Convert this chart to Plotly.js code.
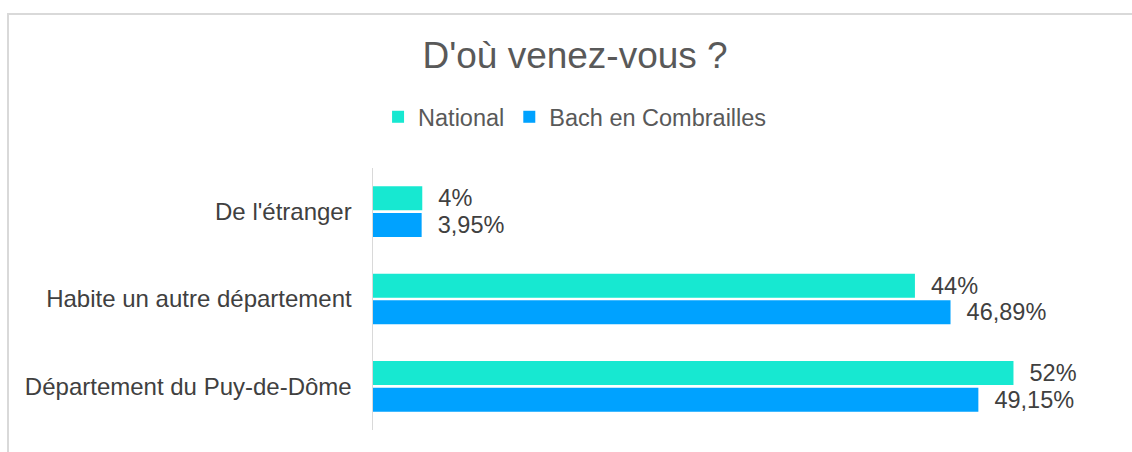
<!DOCTYPE html>
<html>
<head>
<meta charset="utf-8">
<script src="https://cdn.plot.ly/plotly-3.0.1.min.js"></script>
<style>
  html, body { margin: 0; padding: 0; background: #ffffff; }
  #frame { position: absolute; left: 7px; top: 13px; width: 1200px; height: 500px;
           border-top: 2px solid #d9d9d9; border-left: 2px solid #d9d9d9; box-sizing: border-box; }
  #chart { position: absolute; left: 0; top: 0; width: 1132px; height: 452px; }
</style>
</head>
<body>
<div id="frame"></div>
<div id="chart"></div>
<script>
const categories = ["De l'étranger", "Habite un autre département", "Département du Puy-de-Dôme"];
const seriesNames = ["National", "Bach en Combrailles"];
const nationalValues = [4, 44, 52];
const bachValues = [3.95, 46.89, 49.15];
const nationalLabels = ["4%", "44%", "52%"];
const bachLabels = ["3,95%", "46,89%", "49,15%"];
const colors = ["#17E8D1", "#00A2FF"];

const labelFont = { family: "Liberation Sans, Arial, sans-serif", size: 23.5, color: "#404040" };
const catFont = { family: "Liberation Sans, Arial, sans-serif", size: 24, color: "#404040" };

const traces = [
  { name: seriesNames[0], values: nationalValues, labels: nationalLabels, color: colors[0] },
  { name: seriesNames[1], values: bachValues, labels: bachLabels, color: colors[1] }
].map(s => ({
  type: "bar",
  orientation: "h",
  name: s.name,
  y: categories,
  x: s.values,
  text: s.labels.map(t => "\u00a0\u00a0" + t),
  textposition: "outside",
  constraintext: "none",
  textfont: labelFont,
  cliponaxis: false,
  marker: { color: s.color },
  hoverinfo: "skip"
}));

const layout = {
  width: 1132,
  height: 452,
  paper_bgcolor: "rgba(0,0,0,0)",
  plot_bgcolor: "rgba(0,0,0,0)",
  margin: { l: 373, r: 20, t: 168, b: 22, pad: 0 },
  font: { family: "Liberation Sans, Arial, sans-serif", color: "#404040" },
  title: {
    text: "D'où venez-vous ?",
    font: { family: "Liberation Sans, Arial, sans-serif", size: 37, color: "#595959" },
    x: 0.508, xref: "container", xanchor: "center",
    y: 1 - 55 / 452, yref: "container", yanchor: "middle"
  },
  barmode: "group",
  bargap: 0.39,
  bargroupgap: 0.1,
  showlegend: true,
  legend: {
    orientation: "h",
    xref: "container", yref: "container",
    x: 0.508, xanchor: "center",
    y: 1 - 117 / 452, yanchor: "middle",
    traceorder: "normal",
    font: { family: "Liberation Sans, Arial, sans-serif", size: 23.5, color: "#595959" },
    itemwidth: 30,
    itemclick: false
  },
  xaxis: {
    range: [0, 60],
    visible: false,
    showgrid: false,
    zeroline: false,
    fixedrange: true
  },
  yaxis: {
    type: "category",
    categoryorder: "array",
    categoryarray: categories,
    autorange: "reversed",
    showline: true,
    linecolor: "#d9d9d9",
    linewidth: 1.5,
    showgrid: false,
    zeroline: false,
    ticks: "",
    ticklabelstandoff: 15,
    tickfont: catFont,
    fixedrange: true
  }
};

Plotly.newPlot("chart", traces, layout, { displayModeBar: false, staticPlot: true });
</script>
</body>
</html>
